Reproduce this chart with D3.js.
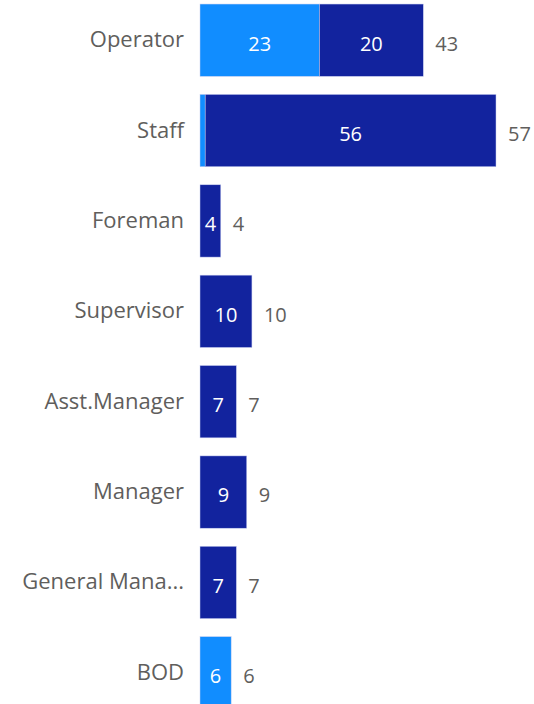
<!DOCTYPE html>
<html>
<head>
<meta charset="utf-8">
<script src="https://cdn.jsdelivr.net/npm/d3@7"></script>
<style>
  body { margin: 0; background: #fff; }
  text { font-family: "Segoe UI", "Open Sans", sans-serif; }
</style>
</head>
<body>
<div id="chart"></div>
<script>
// data
const categories = ["Operator", "Staff", "Foreman", "Supervisor", "Asst.Manager", "Manager", "General Manager", "BOD"];
const seriesNames = ["Light", "Dark"];
const lightValues = [23, 1, 0, 0, 0, 0, 0, 6];
const darkValues = [20, 56, 4, 10, 7, 9, 7, 0];
const colors = ["#118DFF", "#12239E"];

const width = 534, height = 704;
const svg = d3.select("#chart").append("svg")
    .attr("width", width)
    .attr("height", height);

const rows = categories.map((c, i) => ({cat: c, Light: lightValues[i], Dark: darkValues[i]}));
const stacked = d3.stack().keys(seriesNames)(rows);

const x = d3.scaleLinear()
    .domain([0, 57])
    .range([200, 496]);

const y = d3.scaleBand()
    .domain(categories)
    .range([-5, 718])
    .paddingInner(0.2)
    .paddingOuter(0.1);

// category labels
const yAxis = svg.append("g")
    .attr("transform", "translate(200,0)")
    .call(d3.axisLeft(y).tickSize(0).tickPadding(16)
        .tickFormat(d => d.length > 13 ? d.slice(0, 12) + "..." : d));
yAxis.select(".domain").remove();
yAxis.selectAll("text")
    .style("font-family", "'Segoe UI', 'Open Sans', sans-serif")
    .style("font-size", "22px")
    .attr("fill", "#605E5C");

// bars
const layers = svg.selectAll(".layer")
    .data(stacked)
    .enter().append("g")
    .attr("class", "layer")
    .attr("fill", (d, i) => colors[i]);

layers.selectAll("rect")
    .data(d => d.filter(p => p[1] > p[0]))
    .enter().append("rect")
    .attr("x", d => x(d[0]))
    .attr("y", d => y(d.data.cat))
    .attr("width", d => x(d[1]) - x(d[0]))
    .attr("height", y.bandwidth())
    .attr("stroke", "#c8cdf0")
    .attr("stroke-width", 0.5);

// data labels inside segments (only when wide enough)
layers.selectAll(".val")
    .data(d => d.filter(p => x(p[1]) - x(p[0]) > 12))
    .enter().append("text")
    .attr("class", "val")
    .attr("x", d => (x(d[0]) + x(d[1])) / 2)
    .attr("y", d => y(d.data.cat) + y.bandwidth() / 2)
    .attr("dy", "0.52em")
    .attr("text-anchor", "middle")
    .attr("fill", "white")
    .style("font-size", "20px")
    .text(d => d[1] - d[0]);

// totals
svg.selectAll(".total")
    .data(rows)
    .enter().append("text")
    .attr("class", "total")
    .attr("x", d => x(d.Light + d.Dark) + 12)
    .attr("y", d => y(d.cat) + y.bandwidth() / 2)
    .attr("dy", "0.52em")
    .attr("fill", "#605E5C")
    .style("font-size", "20px")
    .text(d => d.Light + d.Dark);
</script>
</body>
</html>
